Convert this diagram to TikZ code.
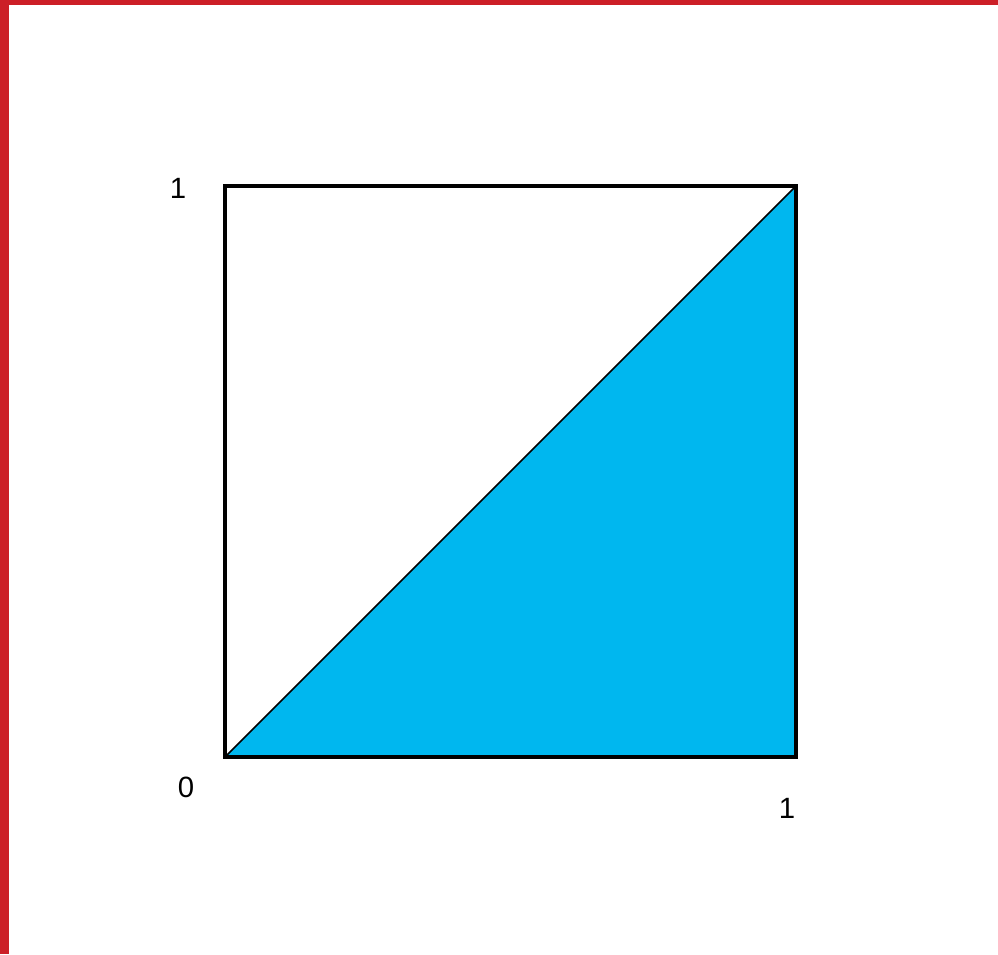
\documentclass[tikz,border=0pt]{standalone}
\usepackage{fontspec}
\setmainfont{Liberation Sans}
\usepackage{xcolor}
\usetikzlibrary{positioning,calc}

\begin{document}
\begin{tikzpicture}[x=0.75pt,y=0.75pt]
\definecolor{fillColor}{RGB}{255,255,255}
\path[use as bounding box,fill=fillColor] (0,0) rectangle (998,954);
% frame bands
\definecolor{frameColor}{RGB}{204,31,39}
\path[fill=frameColor] (0,949) rectangle (998,954);
\path[fill=frameColor] (0,0) rectangle (9,954);
% unit square
\coordinate (o) at (225,197);
\coordinate (a) at (796,197);
\coordinate (b) at (796,768);
\coordinate (c) at (225,768);
\definecolor{fillColor}{RGB}{0,183,239}
\path[fill=fillColor] (o) -- (a) -- (b) -- cycle;
\draw[line width=1.3pt] (o) -- (b);
\draw[line width=2.5pt] (o) rectangle (b);
% labels
\tikzset{tick/.style={inner sep=0pt,font=\fontsize{22}{22}\selectfont}}
\node[tick] (ytop) at (178,766) {1};
\node[tick] (orig) at (186,167) {0};
\node[tick] (xright) at (787,146) {1};
\end{tikzpicture}
\end{document}
